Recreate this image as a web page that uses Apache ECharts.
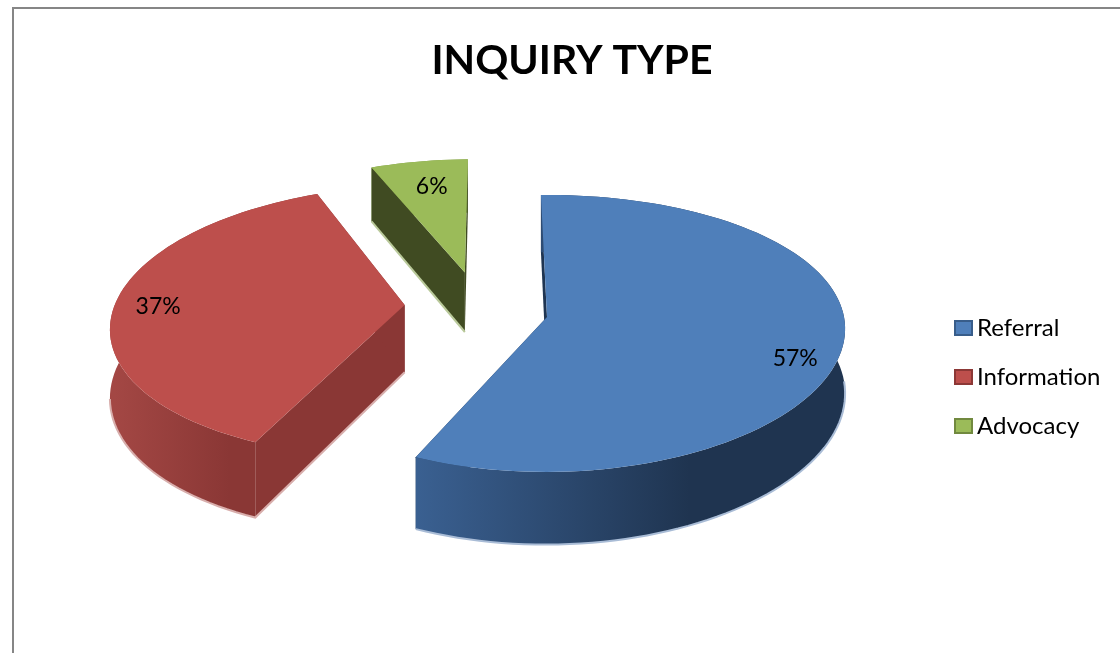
<!DOCTYPE html>
<html>
<head>
<meta charset="utf-8">
<title>INQUIRY TYPE</title>
<style>
  html, body { margin: 0; padding: 0; background: #fff; }
  #chart { width: 1120px; height: 653px; }
</style>
</head>
<body>
<div id="chart"></div>
<script src="https://cdn.jsdelivr.net/npm/echarts@6/dist/echarts.min.js"></script>
<script>
const sliceNames = ['Referral', 'Information', 'Advocacy']
const sliceValues = [57, 37, 6]

const total = sliceValues.reduce((a, b) => a + b, 0)
const FONT = 'Lato'

// fake 3d pie: a disc in a plane, seen in perspective
const view = { vx: 560, cy: 317, A: 136.5, k: 0.119, startAngle: -1.5 }

// one look per slice, same order as sliceNames
const looks = [
  {
    explode: [547, 0],
    radius: 297,
    kx: 0.09,
    depth: 64,
    wallZ: 3, // blue wall sits in front of its own cut
    top: '#4f7fba',
    cut: '#1f3552',
    edge: '#a9bcd6',
    legendBorder: '#385d8a',
    wall: ['#3a6091', '#1f3450'],
    wallRange: [417, 690],
    rim: [0.45, 1],
    rimApex: false,
    labelShift: [6, 20],
  },
  {
    explode: [403, 0.089],
    radius: 293,
    kx: 0.119,
    depth: 68,
    wallZ: 1,
    top: '#bd4f4c',
    cut: '#8a3735',
    edge: '#d8aeac',
    legendBorder: '#8c3836',
    wall: ['#a34744', '#8a3735'],
    wallRange: [115, 230],
    rim: [0, 0.4],
    rimApex: true,
    labelShift: [-9, 2],
  },
  {
    explode: [461, 0.34],
    radius: 300,
    kx: 0.119,
    depth: 62,
    wallZ: 1,
    top: '#9bbb59',
    cut: '#404b22',
    edge: '#b9c99a',
    legendBorder: '#71893f',
    wall: ['#7f9a49', '#7f9a49'],
    wallRange: [372, 467],
    rim: [0, 0],
    rimApex: true,
    labelShift: [5, 7],
  },
]

const project = (look, theta, radius, drop) => {
  const rad = (theta * Math.PI) / 180
  const u = look.explode[0] + look.radius * radius * Math.sin(rad)
  const v = look.explode[1] + radius * Math.cos(rad)
  const s = 1 / (1 + view.k * v)
  const sx = 1 / (1 + look.kx * v)
  return [view.vx + (u - view.vx) * sx, view.cy - view.A * v * s + drop * look.depth * s]
}

const arcPoints = (look, from, to, drop) => {
  const pts = []
  const steps = Math.max(2, Math.ceil((to - from) / 2))
  for (let i = 0; i <= steps; i++) {
    pts.push(project(look, from + ((to - from) * i) / steps, 1, drop))
  }
  return pts
}

const polygon = (points, fill, z2) => ({
  type: 'polygon',
  z2: z2,
  shape: { points: points },
  style: { fill: fill },
})

const makeRenderItem = (index) => (params, api) => {
  const look = looks[index]
  const value = api.value(0)
  const before = sliceValues.slice(0, index).reduce((a, b) => a + b, 0)
  const from = view.startAngle + (before / total) * 360
  const to = from + (value / total) * 360
  const mid = (from + to) / 2

  const apex = project(look, 0, 0, 0)
  const apexLow = project(look, 0, 0, 1)
  const topArc = arcPoints(look, from, to, 0)
  const lowArc = arcPoints(look, from, to, 1)

  const children = []
  // outer wall
  children.push(polygon(topArc.concat(lowArc.slice().reverse()), new echarts.graphic.LinearGradient(
    look.wallRange[0], 0, look.wallRange[1], 0,
    [{ offset: 0, color: look.wall[0] }, { offset: 1, color: look.wall[1] }],
    true
  ), look.wallZ))
  // cut faces
  children.push(polygon([topArc[0], apex, apexLow, lowArc[0]], look.cut, 2))
  children.push(polygon([topArc[topArc.length - 1], apex, apexLow, lowArc[lowArc.length - 1]], look.cut, 2))
  // light rim under the slice
  const rimArc = lowArc.slice(
    Math.floor(lowArc.length * look.rim[0]),
    Math.ceil(lowArc.length * look.rim[1]) + (look.rimApex ? 1 : 0)
  )
  children.push({
    type: 'polyline',
    z2: 3,
    shape: { points: look.rimApex ? [apexLow].concat(rimArc) : rimArc },
    style: { stroke: look.edge, lineWidth: 2, fill: 'none' },
  })
  // top of the slice
  children.push(polygon([apex].concat(topArc), look.top, 4))
  // percent label
  const labelPos = project(look, mid, 0.82, 0)
  children.push({
    type: 'text',
    z2: 5,
    style: {
      x: labelPos[0] + look.labelShift[0],
      y: labelPos[1] + look.labelShift[1],
      text: Math.round((value / total) * 100) + '%',
      fill: '#000',
      font: '23px ' + FONT,
      align: 'center',
      verticalAlign: 'middle',
    },
  })
  return { type: 'group', children: children }
}

const myChart = echarts.init(document.getElementById('chart'))

const options = {
  animation: false,
  backgroundColor: '#fff',
  title: {
    text: 'INQUIRY TYPE',
    left: 567,
    top: 35,
    textAlign: 'center',
    textStyle: { color: '#000', fontFamily: FONT, fontWeight: 'bold', fontSize: 41 },
  },
  legend: {
    orient: 'vertical',
    left: 949,
    top: 311,
    itemWidth: 17,
    itemHeight: 14,
    itemGap: 25,
    icon: 'rect',
    data: sliceNames,
    selectedMode: false,
    textStyle: { color: '#000', fontFamily: FONT, fontSize: 24 },
  },
  graphic: [
    {
      type: 'polyline',
      shape: { points: [[13, 653], [13, 8], [1120, 8]] },
      style: { stroke: '#868686', lineWidth: 2, fill: 'none' },
    },
  ],
  series: sliceNames.map((name, index) => ({
    type: 'custom',
    name: name,
    coordinateSystem: 'none',
    silent: true,
    itemStyle: { color: looks[index].top, borderColor: looks[index].legendBorder, borderWidth: 2 },
    renderItem: makeRenderItem(index),
    data: [[sliceValues[index]]],
  })),
}

myChart.setOption(options)
</script>
</body>
</html>
